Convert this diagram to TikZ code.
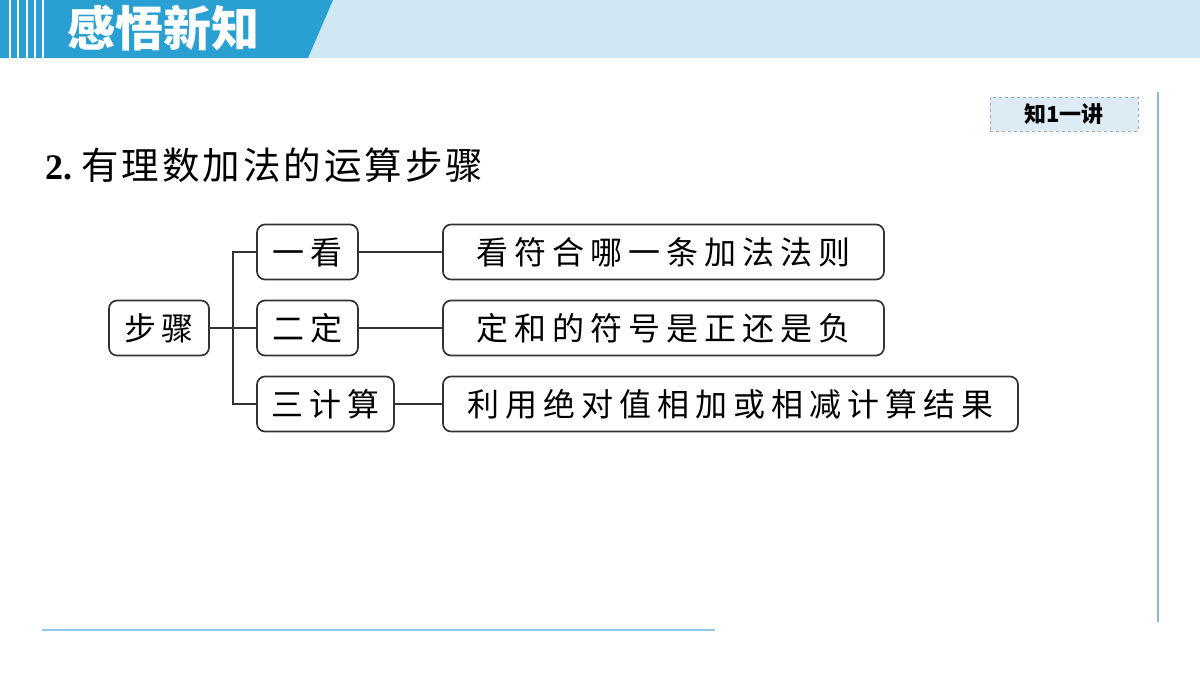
\documentclass[tikz,border=0pt]{standalone}
\usepackage{fontspec}
\setmainfont{Liberation Serif}
\newfontfamily\cjk{Noto Sans CJK SC}
\definecolor{hdark}{HTML}{29A0D1}
\definecolor{hlight}{HTML}{CFE8F3}
\definecolor{tagfill}{HTML}{DCEBF4}
\definecolor{tagline}{HTML}{9AA8B0}
\definecolor{rline}{HTML}{86B9D6}
\definecolor{bline}{HTML}{8DCBEA}
\definecolor{boxline}{HTML}{333333}
\makeatletter
\newcommand\spacedtext[2]{\def\sp@gap{#1}\@tfor\sp@c:=#2\do{\sp@c\hspace{\sp@gap}}\unskip}
\makeatother
\tikzset{
  stepbox/.style={draw=boxline, line width=1.7pt, rounded corners=8pt, minimum height=55pt, inner sep=0pt, font=\cjk\fontsize{32}{36}\selectfont},
  link/.style={draw=boxline, line width=2pt},
}
\begin{document}
\begin{tikzpicture}[x=1pt,y=-1pt]
\useasboundingbox (0,0) rectangle (1200,675);
\fill[white] (0,0) rectangle (1200,675);
% header
\fill[hlight] (0,0) rectangle (1200,58);
\fill[hdark] (0,0) -- (333,0) -- (308,58) -- (0,58) -- cycle;
\foreach \x in {10,18,27,35,43} \draw[white, line width=1.5pt] (\x,0) -- (\x,58);
\node[text=white, font=\cjk\bfseries\fontsize{48}{52}\selectfont, inner sep=0pt] (head) at (163,28) {感悟新知};
% tag
\node[draw=tagline, dashed, fill=tagfill, line width=1pt, minimum width=148pt, minimum height=34pt, inner sep=0pt, font=\cjk\bfseries\fontsize{22}{26}\selectfont] (tag) at (1064,114) {知1一讲};
% frame lines
\draw[rline, line width=1.2pt] (1158,92) coordinate (r1) -- (1158,622) coordinate (r2);
\draw[bline, line width=2pt] (42,630) coordinate (b1) -- (715,630) coordinate (b2);
% title
\node[anchor=west, inner sep=0pt] (title) at (45,165) {\fontsize{36}{40}\selectfont\textbf{2.}\hspace{9pt}{\cjk\fontsize{37.5}{42}\selectfont\spacedtext{3pt}{有理数加法的运算步骤}}};
% diagram
\node[stepbox, minimum width=100pt] (s) at (159,328) {\spacedtext{6pt}{步骤}};
\node[stepbox, minimum width=101pt] (a) at (307.5,252) {\spacedtext{6pt}{一看}};
\node[stepbox, minimum width=101pt] (b) at (307.5,328) {\spacedtext{6pt}{二定}};
\node[stepbox, minimum width=137pt] (c) at (325.5,404) {\spacedtext{6pt}{三计算}};
\node[stepbox, minimum width=441pt] (A) at (663.5,252) {\spacedtext{6pt}{看符合哪一条加法法则}};
\node[stepbox, minimum width=441pt] (B) at (663.5,328) {\spacedtext{6pt}{定和的符号是正还是负}};
\node[stepbox, minimum width=575pt] (C) at (730.5,404) {\spacedtext{6pt}{利用绝对值相加或相减计算结果}};
\coordinate (bt) at (233,252);
\coordinate (bb) at (233,404);
\draw[link] (a.west) -- (bt) -- (bb) -- (c.west);
\draw[link] (s.east) -- (b.west);
\draw[link] (a.east) -- (A.west);
\draw[link] (b.east) -- (B.west);
\draw[link] (c.east) -- (C.west);
\end{tikzpicture}
\end{document}
